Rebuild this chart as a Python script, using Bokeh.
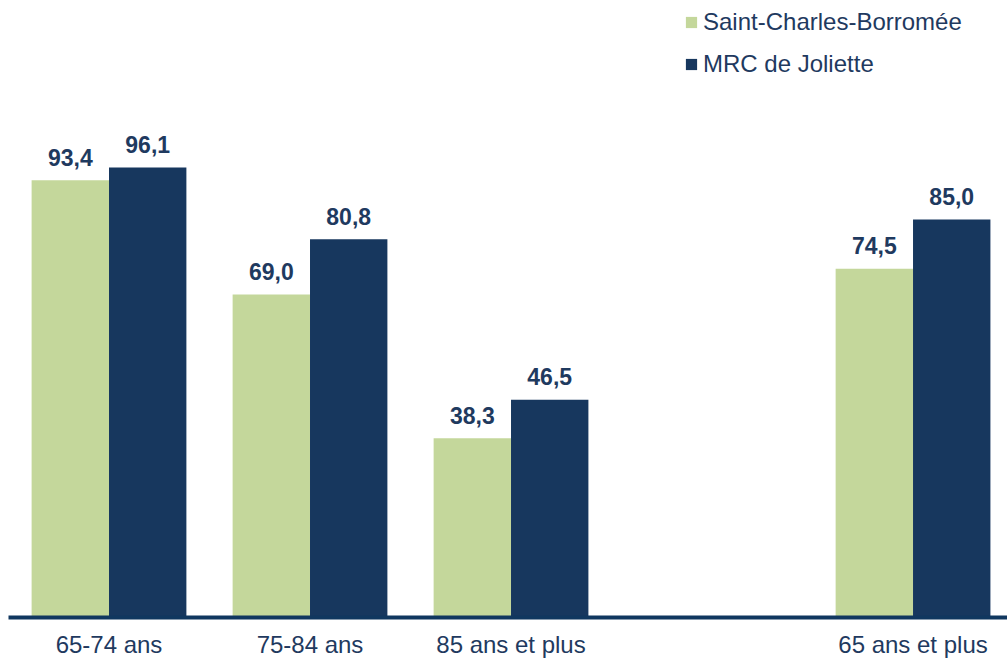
from bokeh.plotting import figure
from bokeh.models import ColumnDataSource, FixedTicker, Legend, LegendItem, Range1d
from bokeh.embed import file_html
from bokeh.resources import INLINE
from bokeh.core.properties import value

categories = ["65-74 ans", "75-84 ans", "85 ans et plus", "", "65 ans et plus"]
saint_charles = [93.4, 69.0, 38.3, None, 74.5]
mrc_joliette = [96.1, 80.8, 46.5, None, 85.0]
series_names = ["Saint-Charles-Borromée", "MRC de Joliette"]

GREEN = "#c4d79b"
NAVY = "#17375e"
TEXT = "#1f3a5f"
FONT = "Liberation Sans"

p = figure(width=1007, height=660, output_backend="svg", toolbar_location=None,
           x_range=Range1d(-0.5, 4.47), y_range=Range1d(0, 131.8),
           min_border_left=8, min_border_right=0, min_border_top=0, min_border_bottom=39)
p.outline_line_color = None
p.xgrid.visible = False
p.ygrid.visible = False
p.yaxis.visible = False

idx = [i for i, c in enumerate(categories) if c]
bw = 0.385

def src(vals, off):
    xs, ys, labels = [], [], []
    for i in idx:
        if vals[i] is not None:
            xs.append(i + off)
            ys.append(vals[i])
            labels.append(f"{vals[i]:.1f}".replace(".", ","))
    return ColumnDataSource(dict(x=xs, y=ys, label=labels))

s1 = src(saint_charles, -bw / 2)
s2 = src(mrc_joliette, bw / 2)

r1 = p.vbar(x="x", top="y", width=bw, source=s1, fill_color=GREEN, line_color=None)
r2 = p.vbar(x="x", top="y", width=bw, source=s2, fill_color=NAVY, line_color=None)

for s in (s1, s2):
    p.text(x="x", y="y", text="label", source=s, text_align="center",
           text_baseline="alphabetic", y_offset=-23, text_color=TEXT,
           text_font=value(FONT), text_font_size="23px", text_font_style="bold")

ax = p.xaxis[0]
ax.ticker = FixedTicker(ticks=idx)
ax.major_label_overrides = {i: categories[i] for i in idx}
ax.major_tick_line_color = None
ax.minor_tick_line_color = None
ax.major_tick_out = 0
ax.major_tick_in = 0
ax.axis_line_color = "#10375f"
ax.axis_line_width = 4
ax.major_label_standoff = 13
ax.major_label_text_font = FONT
ax.major_label_text_font_size = "24px"
ax.major_label_text_color = TEXT

legend = Legend(items=[LegendItem(label=series_names[0], renderers=[r1]),
                       LegendItem(label=series_names[1], renderers=[r2])],
                location=(676, 539), orientation="vertical",
                glyph_width=14, glyph_height=14, label_height=24, spacing=14,
                padding=0, margin=0, label_standoff=5,
                label_text_font=FONT, label_text_font_size="24px",
                label_text_color=TEXT, border_line_color=None,
                background_fill_alpha=0)
p.add_layout(legend, "center")

open("out.html", "w").write(file_html(p, INLINE))
